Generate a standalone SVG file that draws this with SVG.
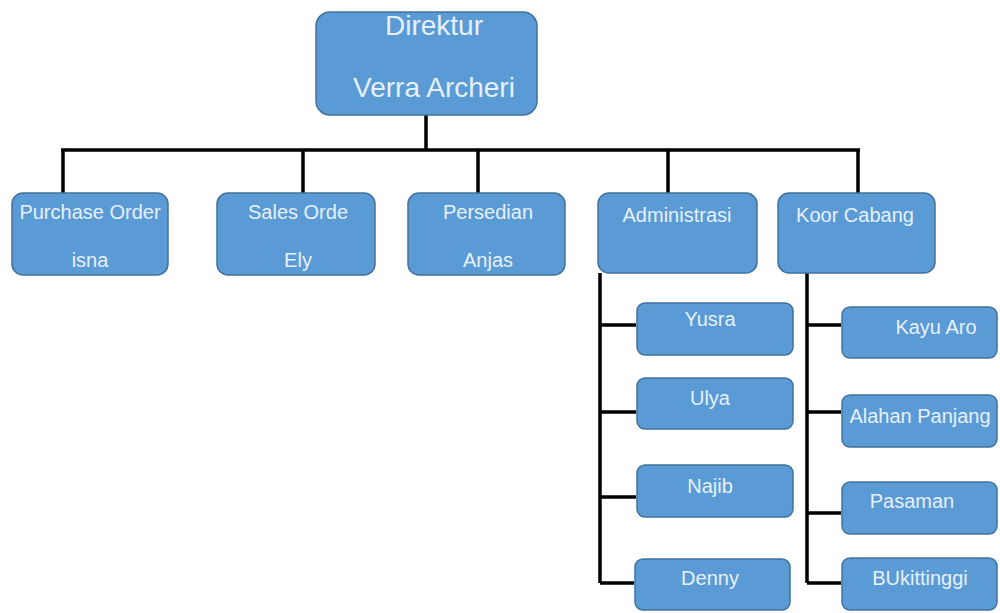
<svg xmlns="http://www.w3.org/2000/svg" width="1000" height="613" viewBox="0 0 1000 613">
<style>
.box{fill:#5b9bd5;stroke:#41719c;stroke-width:1.5}
.t{font-family:"Liberation Sans",Arial,sans-serif;font-size:20px;fill:#e6f0fa;text-anchor:middle}
.big{font-size:28px}
.ln{stroke:#000;stroke-width:3.5;fill:none}
</style>
<rect width="1000" height="613" fill="#ffffff"/>
<g id="connectors">
<path class="ln" d="M426 115V150M61 150H860M63 150V193M303 150V193M478 150V193M668 150V193M858 150V193"/>
<path class="ln" d="M600 273V583M600 325H636M600 412H636M600 497H636M600 583H634"/>
<path class="ln" d="M807 273V583M807 325H841M807 412H841M807 513H841M807 583H841"/>
</g>
<g id="direktur"><rect class="box" x="316" y="12" width="221" height="103" rx="14"/><text class="t big" x="434" y="35">Direktur</text><text class="t big" x="434" y="97">Verra Archeri</text></g>
<g id="purchase"><rect class="box" x="12" y="193" width="156" height="82" rx="11"/><text class="t" x="90" y="219">Purchase Order</text><text class="t" x="90" y="267">isna</text></g>
<g id="sales"><rect class="box" x="217" y="193" width="158" height="82" rx="11"/><text class="t" x="298" y="219">Sales Orde</text><text class="t" x="298" y="267">Ely</text></g>
<g id="persedian"><rect class="box" x="408" y="193" width="157" height="82" rx="11"/><text class="t" x="488" y="219">Persedian</text><text class="t" x="488" y="267">Anjas</text></g>
<g id="administrasi"><rect class="box" x="598" y="193" width="159" height="80" rx="11"/><text class="t" x="677" y="222">Administrasi</text></g>
<g id="koor"><rect class="box" x="778" y="193" width="157" height="80" rx="11"/><text class="t" x="855" y="222">Koor Cabang</text></g>
<g id="yusra"><rect class="box" x="637" y="303" width="156" height="52" rx="8"/><text class="t" x="710" y="326">Yusra</text></g>
<g id="ulya"><rect class="box" x="637" y="378" width="156" height="51" rx="8"/><text class="t" x="710" y="405">Ulya</text></g>
<g id="najib"><rect class="box" x="637" y="465" width="156" height="52" rx="8"/><text class="t" x="710" y="493">Najib</text></g>
<g id="denny"><rect class="box" x="635" y="559" width="155" height="51" rx="8"/><text class="t" x="710" y="585">Denny</text></g>
<g id="kayuaro"><rect class="box" x="842" y="307" width="155" height="51" rx="8"/><text class="t" x="936" y="334">Kayu Aro</text></g>
<g id="alahan"><rect class="box" x="842" y="395" width="155" height="52" rx="8"/><text class="t" x="920" y="423">Alahan Panjang</text></g>
<g id="pasaman"><rect class="box" x="842" y="482" width="155" height="52" rx="8"/><text class="t" x="912" y="508">Pasaman</text></g>
<g id="bukittinggi"><rect class="box" x="842" y="558" width="155" height="52" rx="8"/><text class="t" x="920" y="585">BUkittinggi</text></g>
</svg>
